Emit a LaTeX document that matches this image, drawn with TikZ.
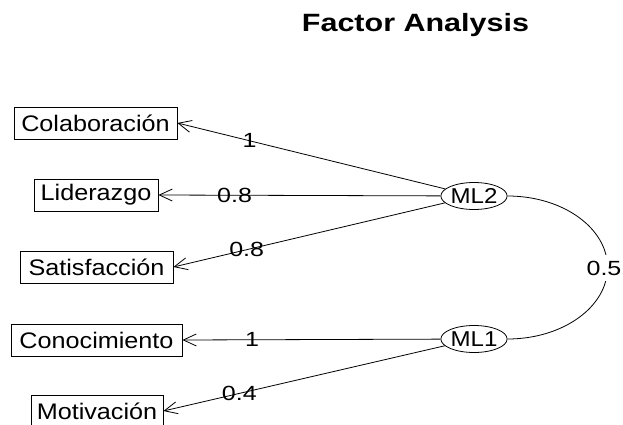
\documentclass[tikz,border=0pt]{standalone}
\usepackage{fontspec}
\usetikzlibrary{arrows.meta,shapes.geometric}
\newfontfamily\labfont[FakeStretch=1.12]{Liberation Sans}
\newfontfamily\numfont[FakeStretch=1.22]{Liberation Sans}
\newfontfamily\ttlfont[FakeStretch=1.22]{Liberation Sans}
\tikzset{
  obs/.style={draw, line width=0.8pt, rectangle, minimum height=32pt, inner sep=0pt,
    font=\labfont\fontsize{22.5}{26}\selectfont},
  lat/.style={draw, line width=0.8pt, ellipse, minimum width=58pt, minimum height=27pt, inner sep=0pt,
    font=\labfont\fontsize{21.5}{24}\selectfont},
  arr/.style={line width=0.8pt, -{Straight Barb[length=13pt,width=12pt]}},
  lbl/.style={font=\numfont\fontsize{20.5}{23}\selectfont, inner sep=0pt},
}
\begin{document}
\begin{tikzpicture}[x=1pt,y=-1pt]
\useasboundingbox (0,0) rectangle (623,425);
\node[font=\ttlfont\bfseries\fontsize{25}{30}\selectfont, anchor=base] (title) at (415.5,32) {Factor Analysis};
\node[obs, minimum width=163pt] (col) at (95.5,123) {Colaboración};
\node[obs, minimum width=124pt] (lid) at (96,195) {Liderazgo};
\node[obs, minimum width=153pt] (sat) at (96.5,267) {Satisfacción};
\node[obs, minimum width=171pt] (con) at (96.5,340) {Conocimiento};
\node[obs, minimum width=132pt] (mot) at (97,411) {Motivación};
\node[lat] (ml2) at (474,196) {ML2};
\node[lat] (ml1) at (474,339) {ML1};
\draw[arr] (ml2) -- node[lbl,pos=0.73]{1} (col.east);
\draw[arr] (ml2) -- node[lbl,pos=0.73]{0.8} (lid.east);
\draw[arr] (ml2) -- node[lbl,pos=0.73]{0.8} (sat.east);
\draw[arr] (ml1) -- node[lbl,pos=0.73]{1} (con.east);
\draw[arr] (ml1) -- node[lbl,pos=0.73]{0.4} (mot.east);
\draw[line width=0.8pt] (ml2.east) arc[start angle=90, end angle=-90, x radius=100pt, y radius=71.5pt];
\node[lbl, fill=white, inner xsep=2pt, inner ysep=6pt] (cor) at (604,268) {0.5};
\end{tikzpicture}
\end{document}
